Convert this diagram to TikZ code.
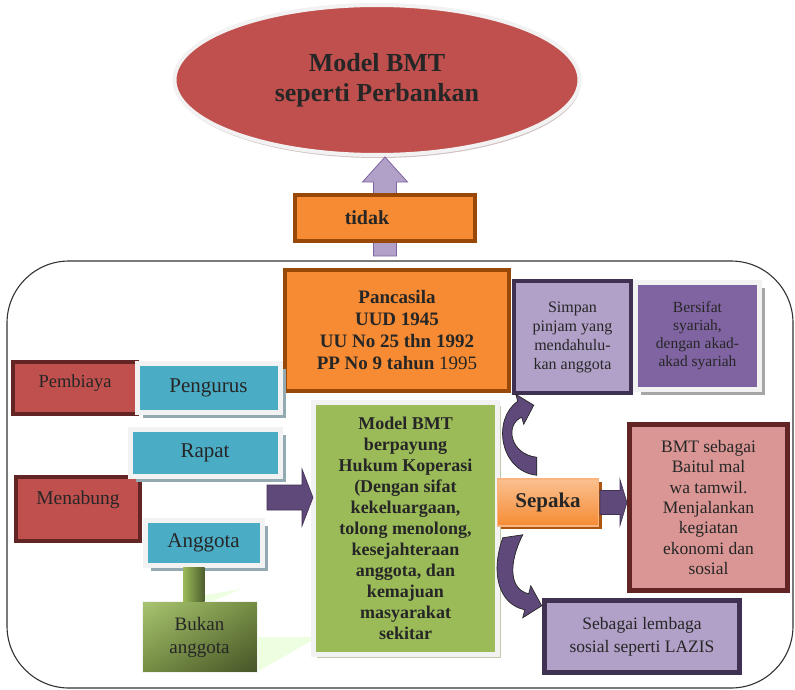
\documentclass[tikz,border=0pt]{standalone}
\usepackage{xcolor}
\usepackage{fontspec}
\setmainfont{Liberation Serif}
\usepackage{tikz}
\usetikzlibrary{shapes.geometric, positioning, calc, shadows, shadings}

\definecolor{bmtred}{HTML}{C0504D}
\definecolor{rededge}{HTML}{632523}
\definecolor{bmtteal}{HTML}{4BACC6}
\definecolor{frameline}{HTML}{F2F2F2}
\definecolor{tealshadow}{HTML}{93AAB3}
\definecolor{bmtorange}{HTML}{F68B33}
\definecolor{orangeedge}{HTML}{984807}
\definecolor{sepatop}{HTML}{FAC090}
\definecolor{bmtgreen}{HTML}{9BBB59}
\definecolor{lavender}{HTML}{B1A0C7}
\definecolor{purpleedge}{HTML}{3F3151}
\definecolor{bmtpurple}{HTML}{8064A2}
\definecolor{arrowpurple}{HTML}{5F497A}
\definecolor{bmtpink}{HTML}{D99694}
\definecolor{inktext}{HTML}{262626}

\begin{document}
\begin{tikzpicture}[
    x=1pt, y=-1pt,
    every node/.style={text=inktext, inner sep=0pt, align=center},
    frame/.style={rectangle, draw=black!80, line width=1.1pt, rounded corners=62pt},
    redbox/.style={rectangle, draw=rededge, fill=bmtred, line width=4pt},
    tealbox/.style={rectangle, draw=frameline, fill=bmtteal, line width=5pt,
        drop shadow={shadow xshift=5.5pt, shadow yshift=-5.5pt, fill=tealshadow, opacity=1},
        font=\fontsize{21}{25}\selectfont},
    orangebox/.style={rectangle, draw=orangeedge, fill=bmtorange, line width=4pt},
    lilacbox/.style={rectangle, draw=purpleedge, fill=lavender, line width=5pt},
    blockarrow/.style={fill=arrowpurple, draw=purpleedge, line width=0.6pt},
    curvedarrow/.style={fill=arrowpurple, draw=black!85, line width=0.7pt},
]
\useasboundingbox (0,0) rectangle (795,690);

% Frame
\node[frame, minimum width=786pt, minimum height=427pt] (frame) at (400,474.5) {};

% Top
\node[ellipse, fill=bmtred, draw=frameline, line width=4pt, minimum width=405pt, minimum height=150pt,
    drop shadow={shadow xshift=1pt, shadow yshift=-3pt, fill=bmtred!50!black!40, opacity=.7},
    font=\bfseries\fontsize{26}{30}\selectfont] (model) at (377,80) {Model BMT\\seperti Perbankan};
\coordinate (uptip) at ($(model.south)+(8,0)$);
\draw[fill=lavender, draw=bmtpurple, line width=0.8pt] (uptip) -- ++(22.5,25) -- ++(-11,0) -- ++(0,74)
    -- ++(-23,0) -- ++(0,-74) -- ++(-11,0) -- cycle;
\node[orangebox, minimum width=180pt, minimum height=46pt, font=\bfseries\fontsize{20}{24}\selectfont]
    (tidak) at (385,218) {tidak\hspace*{36pt}};

% Legal basis and characteristics
\node[orangebox, line width=4.5pt, minimum width=224pt, minimum height=121pt, font=\bfseries\fontsize{19}{22}\selectfont]
    (pancasila) at (397,330.5) {Pancasila\\UUD 1945\\UU No 25 thn 1992\\PP No 9 tahun \textmd{1995}};
\node[lilacbox, line width=4pt, minimum width=117pt, minimum height=112pt, font=\fontsize{16}{19}\selectfont]
    (simpan) at (572.5,337) {Simpan\\pinjam yang\\mendahulu-\\kan anggota};
\node[rectangle, draw=frameline, fill=bmtpurple, line width=5pt, minimum width=124pt, minimum height=107pt,
    drop shadow={shadow xshift=5pt, shadow yshift=-5pt, fill=black!35, opacity=1},
    font=\fontsize{15.5}{18}\selectfont] (syariah) at (697.5,336) {Bersifat\\syariah,\\dengan akad-\\akad syariah};

% Left side
\node[redbox, minimum width=124pt, minimum height=52pt, font=\fontsize{18.5}{22}\selectfont, text depth=14pt]
    (pembiaya) at (75,388) {Pembiaya};
\node[tealbox, minimum width=143pt, minimum height=49pt] (pengurus) at (208.5,387.5) {Pengurus};
\node[redbox, minimum width=124pt, minimum height=64pt, font=\fontsize{19.5}{23}\selectfont, text depth=22pt]
    (menabung) at (78,509) {Menabung};
\node[tealbox, minimum width=150pt, minimum height=47pt] (rapat) at (205,452.5) {Rapat};
\node[tealbox, minimum width=117pt, minimum height=45pt] (anggota) at (203.5,542.5) {Anggota};

\fill[green!45!lime!12] (205,595) -- (242,589) -- (205,604) -- cycle;
\fill[green!45!lime!12] (257,637) -- (318,637) -- (257,672) -- cycle;
\node[shade, upper left=bmtgreen!85!white, upper right=bmtgreen!75!black, lower left=bmtgreen!75!black,
    lower right=bmtgreen!45!black, draw=frameline, line width=1pt, minimum width=115pt, minimum height=71pt,
    font=\fontsize{19}{23}\selectfont] (bukan) at (199.5,637) {Bukan\\anggota};
\shade[left color=bmtgreen, right color=bmtgreen!50!black] ($(anggota.south)+(-20.5,0)$) rectangle ($(bukan.north)+(5,0)$);

% Centre
\node[rectangle, draw=frameline, fill=bmtgreen, line width=5pt, minimum width=184pt, minimum height=252pt,
    drop shadow={shadow xshift=3.5pt, shadow yshift=-3.5pt, fill=black!25!bmtgreen!45, opacity=1},
    font=\bfseries\fontsize{18}{21}\selectfont] (koperasi) at (405.5,528.5)
    {Model BMT\\berpayung\\Hukum Koperasi\\(Dengan sifat\\kekeluargaan,\\tolong menolong,\\kesejahteraan\\anggota, dan\\kemajuan\\masyarakat\\sekitar};
\coordinate (intip) at ($(koperasi.west)+(2,-31)$);
\draw[blockarrow] (intip) -- ++(-11,-28.5) -- ++(0,16) -- ++(-35,0) -- ++(0,25) -- ++(35,0) -- ++(0,16) -- cycle;

% Right side
\node[rectangle, draw=rededge, fill=bmtpink, line width=5pt, minimum width=158pt, minimum height=166pt,
    font=\fontsize{17.5}{20.3}\selectfont] (baitul) at (708.5,507.5)
    {BMT sebagai\\Baitul mal\\wa tamwil.\\Menjalankan\\kegiatan\\ekonomi dan\\sosial};
\node[lilacbox, minimum width=195pt, minimum height=72pt, font=\fontsize{17.5}{23}\selectfont]
    (lazis) at (642,636.5) {Sebagai lembaga\\sosial seperti LAZIS};
\node[rectangle, top color=sepatop, bottom color=bmtorange, draw=sepatop!80!bmtorange, line width=1.5pt,
    minimum width=101pt, minimum height=47pt,
    drop shadow={shadow xshift=3pt, shadow yshift=-3pt, fill=orangeedge!80!bmtorange, opacity=1},
    font=\bfseries\fontsize{21}{25}\selectfont] (sepaka) at (548,502.5) {Sepaka};
\coordinate (outtip) at (sepaka.east -| baitul.west);
\draw[blockarrow] (outtip) -- ++(-7,-23) -- ++(0,11) -- ++(-20,0) -- ++(0,24) -- ++(20,0) -- ++(0,11) -- cycle;

% Curved arrows
\begin{scope}[shift={(sepaka.north west)}]
\draw[curvedarrow] (40,-3) .. controls (3,-7) and (-5,-59) .. (21,-77) -- (19,-84) -- (37,-73) -- (27,-54)
    -- (25,-61) .. controls (8,-54) and (13,-24) .. (40,-21) -- cycle;
\end{scope}
\begin{scope}[shift={(sepaka.south west)}]
\draw[curvedarrow] (6,11) .. controls (-7,48) and (3,78) .. (28,83) -- (26,91) -- (45,79) -- (34,59)
    -- (32,67) .. controls (13,63) and (11,38) .. (26,8) -- cycle;
\end{scope}

\end{tikzpicture}
\end{document}
